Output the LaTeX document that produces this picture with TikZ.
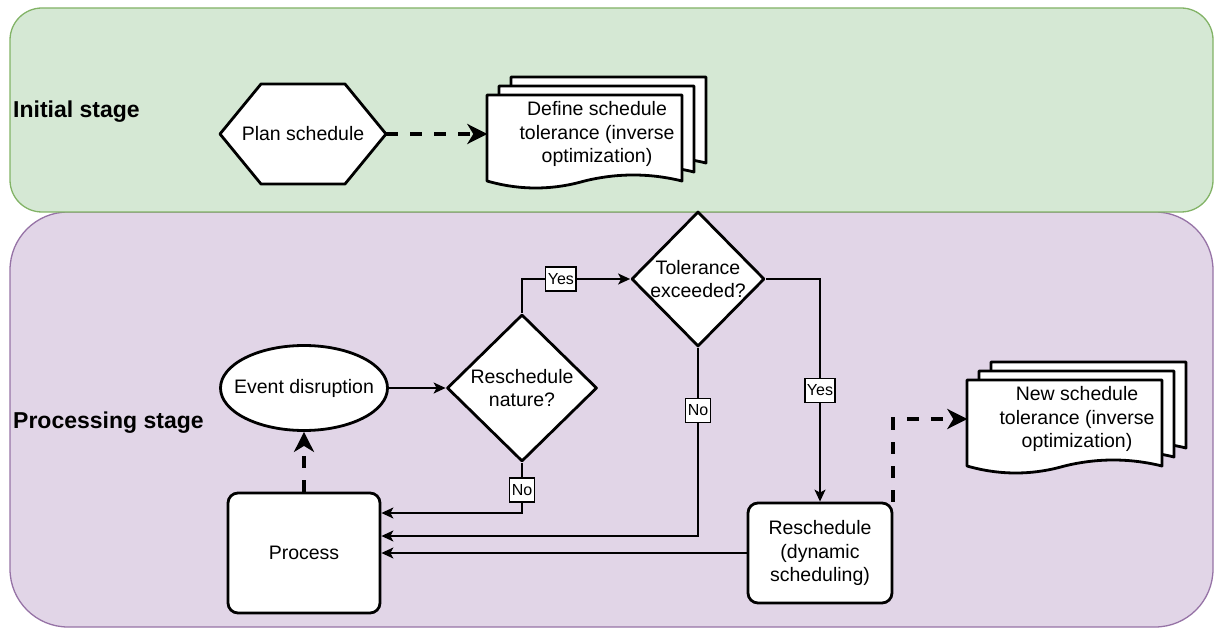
\documentclass[tikz,border=0pt]{standalone}
\usepackage{fontspec}
\setmainfont{Liberation Sans}
\usetikzlibrary{shapes.geometric,arrows.meta,calc}
\definecolor{gfill}{HTML}{D5E8D4}
\definecolor{gdraw}{HTML}{82B366}
\definecolor{pfill}{HTML}{E1D5E7}
\definecolor{pdraw}{HTML}{9673A6}
\tikzset{
  txt/.style={font=\fontsize{19.5}{23.5}\selectfont, align=center, inner sep=0pt},
  hdr/.style={font=\fontsize{23}{27}\selectfont\bfseries, anchor=west, inner sep=0pt},
  shp/.style={draw=black, line width=2.8pt, fill=white, line join=round},
  boxn/.style={shp, rounded corners=10pt, txt},
  conn/.style={line width=1.4pt, -{Stealth[length=12pt,width=11pt,inset=3pt]}},
  dconn/.style={line width=4pt, dash pattern=on 12pt off 12pt, -{Stealth[length=20pt,width=20pt,inset=6pt]}},
  lab/.style={draw=black, line width=1.2pt, fill=white, font=\fontsize{16}{18}\selectfont, inner xsep=2pt, inner ysep=0pt, minimum height=24pt, text height=11.5pt, text depth=1pt}
}
\newcommand{\docpage}[4]{%
  \draw[shp] ({#1},{#2}) -- ({#1+#3},{#2}) -- ({#1+#3},{#2+0.86*#4})
    .. controls ({#1+0.8333*#3},{#2+0.78*#4}) and ({#1+0.6667*#3},{#2+0.78*#4}) .. ({#1+0.5*#3},{#2+0.86*#4})
    .. controls ({#1+0.3333*#3},{#2+0.9533*#4}) and ({#1+0.1667*#3},{#2+0.9533*#4}) .. ({#1},{#2+0.86*#4}) -- cycle;}
\newcommand{\multidoc}[4]{%
  \docpage{#2-86}{#3-57}{195}{100}
  \docpage{#2-98}{#3-48}{195}{100}
  \docpage{#2-110}{#3-39}{195}{100}
  \node[txt, minimum width=219pt, minimum height=113pt] (#1) at (#2,#3) {#4};}
\begin{document}
\begin{tikzpicture}[x=1pt,y=-1pt]
\useasboundingbox (0,0) rectangle (1215,628);
% panels
\draw[fill=pfill, draw=pdraw, line width=1.3pt, rounded corners=58pt] (10,212) rectangle (1213,627);
\draw[fill=gfill, draw=gdraw, line width=1.3pt, rounded corners=32pt] (10,8) rectangle (1213,212);
\node[hdr] (h1) at (13,112) {Initial stage};
\node[hdr] (h2) at (13,423) {Processing stage};
% initial stage
\draw[shp] (220,134) -- (261,84) -- (345,84) -- (386,134) -- (345,184) -- (261,184) -- cycle;
\node[txt, minimum width=166pt, minimum height=100pt] (plan) at (303,134) {Plan schedule};
\multidoc{def}{597}{134}{Define schedule\\tolerance (inverse\\optimization)}
% processing stage
\node[shp, ellipse, minimum width=167pt, minimum height=85pt, inner sep=0pt] (ev) at (304,388) {};
\node[txt] (evt) at (ev) {Event disruption};
\node[shp, diamond, minimum width=150pt, minimum height=147pt, inner sep=0pt] (nat) at (522,388) {};
\node[txt] (natt) at (nat) {Reschedule\\nature?};
\node[shp, diamond, minimum width=133pt, minimum height=135pt, inner sep=0pt] (tol) at (698,279) {};
\node[txt] (tolt) at (tol) {Tolerance\\exceeded?};
\node[boxn, minimum width=152pt, minimum height=120pt] (proc) at (304,553) {Process};
\node[boxn, minimum width=144pt, minimum height=100pt] (res) at (820,553) {Reschedule\\(dynamic\\scheduling)};
\multidoc{new}{1077}{419}{New schedule\\tolerance (inverse\\optimization)}
% connectors
\draw[dconn] (plan.east) -- (def.west);
\draw[dconn] (proc.north) -- (ev.south);
\draw[conn] (ev.east) -- (nat.west);
\draw[conn] (nat.north) |- node[lab, pos=0.68] {Yes} (tol.west);
\draw[conn] (tol.east) -| node[lab, pos=0.75] {Yes} (res.north);
\coordinate (pin1) at ($(proc.east)+(0,-40)$);
\coordinate (pin2) at ($(proc.east)+(0,-17)$);
\draw[conn] (nat.south) |- node[lab, pos=0.27] {No} (pin1);
\draw[conn] (tol.south) |- node[lab, pos=0.167] {No} (pin2);
\draw[conn] (res.west) -- (proc.east);
\draw[dconn] (res.north east) |- (new.west);
\end{tikzpicture}
\end{document}
